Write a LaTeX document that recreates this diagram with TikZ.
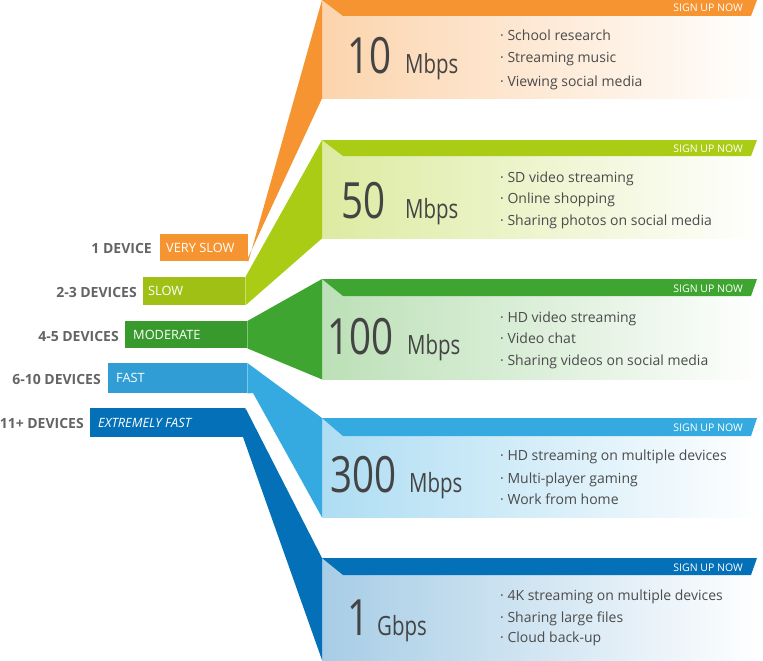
\documentclass[tikz,border=0pt]{standalone}
\usepackage{fontspec}
\setmainfont{Open Sans}
\newfontfamily\bigfont[FakeStretch=0.77]{Open Sans}
\definecolor{orng}{RGB}{247,148,50}
\definecolor{lime}{RGB}{170,204,20}
\definecolor{limebox}{RGB}{160,192,22}
\definecolor{grn}{RGB}{62,166,48}
\definecolor{grnbox}{RGB}{56,154,44}
\definecolor{lblue}{RGB}{53,170,224}
\definecolor{lbluebox}{RGB}{48,158,212}
\definecolor{dblue}{RGB}{4,112,183}
\definecolor{labgray}{RGB}{100,100,100}
\definecolor{txtgray}{RGB}{75,75,75}
\definecolor{numgray}{RGB}{68,68,68}
\begin{document}
\begin{tikzpicture}[x=1pt,y=-1pt,
  devlabel/.style={anchor=base east, inner sep=0pt, text=labgray, font=\bfseries\fontsize{14}{16}\selectfont},
  speedbox/.style={anchor=north west, inner sep=0pt, minimum height=#1},
  boxtext/.style={anchor=west, inner sep=0pt, text=white, font=\fontsize{12.8}{15}\selectfont},
  panel/.style={anchor=north west, inner sep=0pt, minimum width=441pt, minimum height=#1},
  bignum/.style={anchor=base west, inner sep=0pt, text=numgray, font=\bigfont\fontsize{50}{52}\selectfont},
  unit/.style={anchor=base west, inner sep=0pt, text=numgray, font=\bigfont\fontsize{26.5}{28}\selectfont},
  item/.style={anchor=base west, inner sep=0pt, text=txtgray, font=\fontsize{14}{16}\selectfont},
  signup/.style={anchor=base east, inner sep=0pt, text=white, font=\fontsize{10.5}{12}\selectfont}
]
\useasboundingbox (0,0) rectangle (763,661);

% ---------- panels ----------
\node[panel=98pt,  left color=orng!40!white,  right color=white] (p1) at (322,0) {};
\node[panel=98pt,  left color=lime!40!white,  right color=white] (p2) at (322,140) {};
\node[panel=100pt, left color=grn!35!white,   right color=white] (p3) at (322,279) {};
\node[panel=99pt,  left color=lblue!40!white, right color=white] (p4) at (322,418) {};
\node[panel=103pt, left color=dblue!35!white, right color=white] (p5) at (322,558) {};

% banners
\fill[orng]  (p1.north west) -- ++(435,0) -- ++(-6,16) -- ++(-408,0) -- cycle;
\fill[lime]  (p2.north west) -- ++(435,0) -- ++(-6,16) -- ++(-408,0) -- cycle;
\fill[grn]   (p3.north west) -- ++(435,0) -- ++(-6,17) -- ++(-408,0) -- cycle;
\fill[lblue] (p4.north west) -- ++(435,0) -- ++(-6,18) -- ++(-408,0) -- cycle;
\fill[dblue] (p5.north west) -- ++(435,0) -- ++(-6,17) -- ++(-408,0) -- cycle;

\node[signup] (s1) at (743,12) {SIGN UP NOW};
\node[signup] (s2) at (743,152) {SIGN UP NOW};
\node[signup] (s3) at (743,292) {SIGN UP NOW};
\node[signup] (s4) at (743,431) {SIGN UP NOW};
\node[signup] (s5) at (743,571) {SIGN UP NOW};

% ---------- speed boxes ----------
\node[speedbox=27pt, minimum width=88pt,  fill=orng]     (b1) at (160,234) {};
\node[speedbox=28pt, minimum width=102pt, fill=limebox]  (b2) at (143,277) {};
\node[speedbox=27pt, minimum width=122pt, fill=grnbox]   (b3) at (125,321) {};
\node[speedbox=30pt, minimum width=139pt, fill=lbluebox] (b4) at (108,363) {};
\node[speedbox=29pt, minimum width=155pt, fill=dblue]    (b5) at (90,408) {};

% ---------- bands ----------
\fill[orng]  (p1.north west) -- (p1.south west) -- (246.5,261) -- (b1.south east) -- cycle;
\fill[lime]  (p2.north west) -- (p2.south west) -- (b2.south east) -- (b2.north east) -- cycle;
\fill[grn]   (b3.north east) -- (p3.north west) -- (p3.south west) -- (b3.south east) -- cycle;
\fill[lblue] (b4.north east) -- (p4.north west) -- (p4.south west) -- (253,393) -- (b4.south east) -- cycle;
\fill[dblue] (b5.north east) -- (p5.north west) -- (322,660) -- (243,437) -- cycle;

% ---------- box texts ----------
\node[boxtext] (t1) at ([xshift=6pt]b1.west) {VERY SLOW};
\node[boxtext] (t2) at ([xshift=5pt]b2.west) {SLOW};
\node[boxtext] (t3) at ([xshift=8pt]b3.west) {MODERATE};
\node[boxtext] (t4) at ([xshift=8pt]b4.west) {FAST};
\node[boxtext, font=\itshape\fontsize{12.8}{15}\selectfont] (t5) at ([xshift=8pt]b5.west) {EXTREMELY FAST};

% ---------- device labels ----------
\node[devlabel] (l1) at (152,253) {1 DEVICE};
\node[devlabel] (l2) at (137,297) {2-3 DEVICES};
\node[devlabel] (l3) at (119,341) {4-5 DEVICES};
\node[devlabel] (l4) at (101,384) {6-10 DEVICES};
\node[devlabel] (l5) at (84,428) {11+ DEVICES};

% ---------- speeds ----------
\node[bignum] (n1) at (347,74) {10};
\node[unit]   (u1) at (405,74) {Mbps};
\node[bignum] (n2) at (341,218) {50};
\node[unit]   (u2) at (405,218) {Mbps};
\node[bignum] (n3) at (327,354) {100};
\node[unit]   (u3) at (407,354) {Mbps};
\node[bignum] (n4) at (330,492) {300};
\node[unit]   (u4) at (409,492) {Mbps};
\node[bignum] (n5) at (347,635) {1};
\node[unit]   (u5) at (377,635) {Gbps};

% ---------- items ----------
\node[item] (i11) at (500,41) {· School research};
\node[item] (i12) at (500,63) {· Streaming music};
\node[item] (i13) at (500,86) {· Viewing social media};
\node[item] (i21) at (500,182) {· SD video streaming};
\node[item] (i22) at (500,203) {· Online shopping};
\node[item] (i23) at (500,225) {· Sharing photos on social media};
\node[item] (i31) at (500,322) {· HD video streaming};
\node[item] (i32) at (500,343) {· Video chat};
\node[item] (i33) at (500,365) {· Sharing videos on social media};
\node[item] (i41) at (500,460) {· HD streaming on multiple devices};
\node[item] (i42) at (500,483) {· Multi-player gaming};
\node[item] (i43) at (500,504) {· Work from home};
\node[item] (i51) at (500,600) {· 4K streaming on multiple devices};
\node[item] (i52) at (500,622) {· Sharing large files};
\node[item] (i53) at (500,642) {· Cloud back-up};
\end{tikzpicture}
\end{document}
